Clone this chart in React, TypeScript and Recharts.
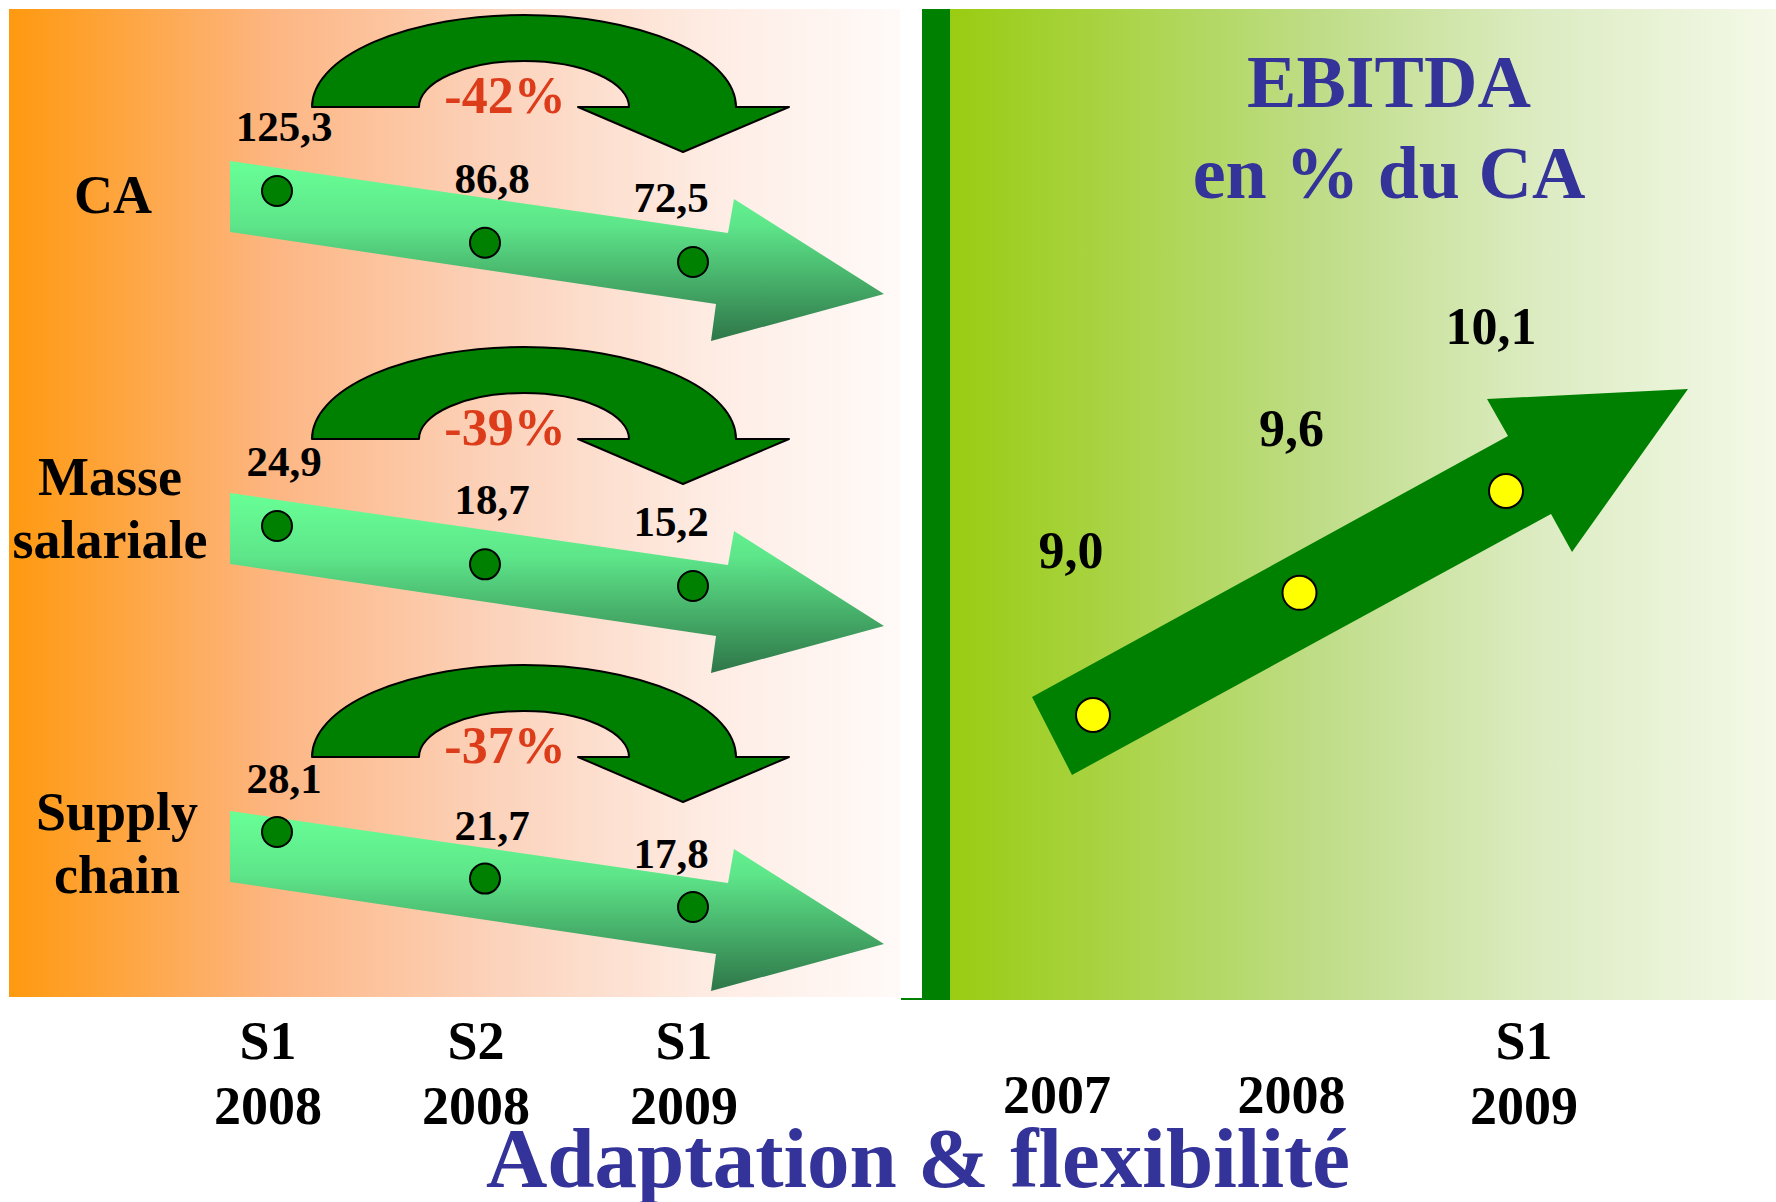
import React from "react";
import { ComposedChart, Line, XAxis, YAxis, LabelList } from "recharts";

// left block: three indicators over three half-years
const periods = ["S1\n2008", "S2\n2008", "S1\n2009"];
const caValues = [125.3, 86.8, 72.5];
const masseValues = [24.9, 18.7, 15.2];
const supplyValues = [28.1, 21.7, 17.8];
const rowNames = [["CA"], ["Masse", "salariale"], ["Supply", "chain"]];
const rowChanges = ["-42%", "-39%", "-37%"];

// right block: EBITDA in % of turnover
const ebitdaPeriods = ["2007", "2008", "S1\n2009"];
const ebitdaValues = [9.0, 9.6, 10.1];

const FONT = "'Liberation Serif', 'Times New Roman', serif";
const BLUE = "#333399";
const DARK_GREEN = "#008000";
const PLOT_H = 1000;

// domain that puts the row's max at yHi and min at yLo inside the plot
function bandDomain(vals: number[], yHi: number, yLo: number): [number, number] {
  const hi = Math.max(...vals);
  const lo = Math.min(...vals);
  const k = (yLo - yHi) / (hi - lo);
  const top = hi + yHi / k;
  return [top - PLOT_H / k, top];
}

const fmt = (v: number) => v.toFixed(1).replace(".", ",");

const leftData = periods.map((p, i) => ({
  period: p,
  ca: caValues[i],
  masse: masseValues[i],
  supply: supplyValues[i],
}));
const rightData = ebitdaPeriods.map((p, i) => ({ period: p, ebitda: ebitdaValues[i] }));

const rows = [
  { key: "ca", domain: bandDomain(caValues, 191, 262), labelDy: -50 },
  { key: "masse", domain: bandDomain(masseValues, 526, 586), labelDy: -50 },
  { key: "supply", domain: bandDomain(supplyValues, 832, 907), labelDy: -39 },
];
const rowOffsets = [0, 332, 650];

function PeriodTick(props: any) {
  const { x, y, payload, index, shifts = [0, 0, 0] } = props;
  const lines = String(payload.value).split("\n");
  const base = lines.length === 1 ? [113] : [59, 124];
  const sx = x + (shifts[index] ?? 0);
  return (
    <g>
      {lines.map((t, i) => (
        <text key={i} x={sx} y={y + base[i]} textAnchor="middle" fontFamily={FONT}
          fontWeight="bold" fontSize={54} fill="#000">{t}</text>
      ))}
    </g>
  );
}

const valueLabel = (dxs: number[], dy: number, size: number) => (props: any) => {
  const { x, y, value, index } = props;
  return (
    <text x={x + (dxs[index] ?? 0)} y={y + dy} textAnchor="middle" fontFamily={FONT} fontWeight="bold"
      fontSize={size} fill="#000">{fmt(Number(value))}</text>
  );
};

function StraightArrow({ dy }: { dy: number }) {
  const pts = [
    [230, 161], [728, 233], [734, 199], [884, 294], [711, 341], [716, 304], [230, 232],
  ].map(([x, y]) => `${x},${y + dy}`).join(" ");
  return <polygon points={pts} fill="url(#shaftGrad)" />;
}

function CurvedArrow({ dy, label }: { dy: number; label: string }) {
  const b = 107 + dy;
  const d = `M312,${b} A212,92 0 0 1 736,${b} L789,${b} L683,${152 + dy} L578,${b} L629,${b} A105,46 0 0 0 419,${b} Z`;
  return (
    <g>
      <path d={d} fill={DARK_GREEN} stroke="#000" strokeWidth={2} strokeLinejoin="round" />
      <text x={505} y={113 + dy} textAnchor="middle" fontFamily={FONT} fontWeight="bold"
        fontSize={52} fill="#DC3C1A">{label}</text>
    </g>
  );
}

function Decor() {
  return (
    <svg width={1776} height={1202} style={{ position: "absolute", left: 0, top: 0 }}>
      <defs>
        <linearGradient id="leftBg" x1="0" y1="0" x2="1" y2="0">
          <stop offset="0" stopColor="#FF990F" />
          <stop offset="0.3" stopColor="#FDB683" />
          <stop offset="0.55" stopColor="#FCD3BC" />
          <stop offset="0.8" stopColor="#FEEDE5" />
          <stop offset="1" stopColor="#FFFAF8" />
        </linearGradient>
        <linearGradient id="rightBg" x1="0" y1="0" x2="1" y2="0">
          <stop offset="0" stopColor="#99CC11" />
          <stop offset="0.45" stopColor="#BFDD88" />
          <stop offset="0.72" stopColor="#DDECC3" />
          <stop offset="1" stopColor="#F4F9E8" />
        </linearGradient>
        <linearGradient id="shaftGrad" x1="0" y1="0" x2="0" y2="1">
          <stop offset="0" stopColor="#68FF96" />
          <stop offset="0.35" stopColor="#5EE68A" />
          <stop offset="1" stopColor="#2E7648" />
        </linearGradient>
      </defs>
      <rect x={9} y={9} width={891} height={988} fill="url(#leftBg)" />
      <rect x={949} y={9} width={827} height={991} fill="url(#rightBg)" />
      <rect x={922} y={9} width={28} height={991} fill={DARK_GREEN} />
      <line x1={901} y1={999} x2={923} y2={999} stroke={DARK_GREEN} strokeWidth={2} />

      {rowOffsets.map((o, i) => (
        <g key={i}>
          <StraightArrow dy={o} />
          <CurvedArrow dy={o} label={rowChanges[i]} />
        </g>
      ))}

      <polygon
        points="1032,697 1508,436 1487,399 1688,389 1572,552 1551,514 1072,775"
        fill={DARK_GREEN}
      />

      {rowNames.map((lines, i) =>
        lines.map((t, j) => (
          <text key={`${i}-${j}`} x={[113, 110, 117][i]} y={[[213], [495, 558], [830, 893]][i][j]}
            textAnchor="middle" fontFamily={FONT} fontWeight="bold" fontSize={54} fill="#000">{t}</text>
        ))
      )}

      <text x={1389} y={107} textAnchor="middle" fontFamily={FONT} fontWeight="bold" fontSize={74} fill={BLUE}>EBITDA</text>
      <text x={1389} y={198} textAnchor="middle" fontFamily={FONT} fontWeight="bold" fontSize={74} fill={BLUE}>en % du CA</text>
      <text x={918} y={1187} textAnchor="middle" fontFamily={FONT} fontWeight="bold" fontSize={85} fill={BLUE}>Adaptation &amp; flexibilité</text>
    </svg>
  );
}

export default function App() {
  return (
    <div style={{ position: "absolute", left: 0, top: 0, width: 1776, height: 1202, background: "#fff", overflow: "hidden" }}>
      <Decor />

      <div style={{ position: "absolute", left: 0, top: 0 }}>
        <ComposedChart width={900} height={1202} data={leftData} margin={{ top: 0, right: 0, bottom: 0, left: 0 }}>
          <XAxis dataKey="period" type="category" scale="point" padding={{ left: 277, right: 207 }}
            height={202} axisLine={false} tickLine={false} tickSize={0} tickMargin={0} interval={0}
            tick={<PeriodTick shifts={[-9, -9, -9]} />} />
          {rows.map((r) => (
            <YAxis key={r.key} yAxisId={r.key} hide type="number" domain={r.domain} allowDataOverflow />
          ))}
          {rows.map((r) => (
            <Line key={r.key} yAxisId={r.key} dataKey={r.key} stroke="none" isAnimationActive={false}
              dot={{ r: 15, fill: DARK_GREEN, stroke: "#000", strokeWidth: 2 }} activeDot={false}>
              <LabelList dataKey={r.key} content={valueLabel([7, 7, -22], r.labelDy, 43)} />
            </Line>
          ))}
        </ComposedChart>
      </div>

      <div style={{ position: "absolute", left: 949, top: 0 }}>
        <ComposedChart width={827} height={1202} data={rightData} margin={{ top: 0, right: 0, bottom: 0, left: 0 }}>
          <XAxis dataKey="period" type="category" scale="point" padding={{ left: 144, right: 270 }}
            height={202} axisLine={false} tickLine={false} tickSize={0} tickMargin={0} interval={0}
            tick={<PeriodTick shifts={[-36, -8, 18]} />} />
          <YAxis yAxisId="e" hide type="number" domain={bandDomain(ebitdaValues, 491, 715)} allowDataOverflow />
          <Line yAxisId="e" dataKey="ebitda" stroke="none" isAnimationActive={false}
            dot={{ r: 17, fill: "#FFFF00", stroke: "#000", strokeWidth: 2 }} activeDot={false}>
            <LabelList dataKey="ebitda" content={valueLabel([-22, -8, -15], -147, 52)} />
          </Line>
        </ComposedChart>
      </div>
    </div>
  );
}
